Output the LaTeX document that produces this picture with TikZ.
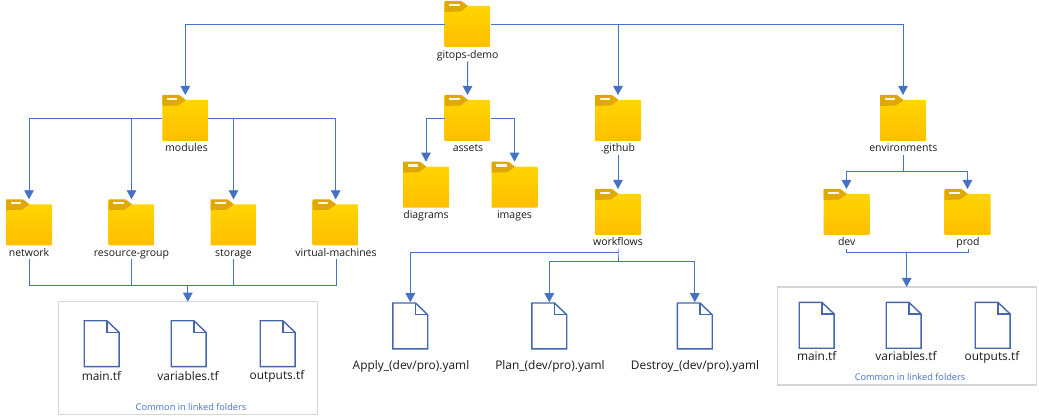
\documentclass[tikz,border=0pt]{standalone}
\usepackage{fontspec}
\setmainfont{Open Sans}
\usetikzlibrary{arrows.meta}
\definecolor{lineblue}{HTML}{4472C4}
\definecolor{filepen}{HTML}{4466AC}
\definecolor{foldertop}{HTML}{FFD700}
\definecolor{folderbot}{HTML}{FFBE00}
\definecolor{foldertab}{HTML}{E0A800}
\definecolor{labelink}{HTML}{1A1A1A}
\tikzset{
  link/.style={draw=lineblue,line width=0.9pt},
  arrowlink/.style={link,-{Triangle[width=9.5pt,length=9pt,fill=lineblue]}},
  folderspot/.style={minimum width=46pt,minimum height=46pt,inner sep=0pt,outer sep=0pt},
  filespot/.style={minimum width=36.5pt,minimum height=47.5pt,inner sep=0pt,outer sep=0pt},
  flabel/.style={anchor=base,text=labelink,font=\fontsize{10.5}{12}\selectfont,inner sep=0pt,outer sep=0pt,
    text height=8pt,text depth=3pt},
  tflabel/.style={flabel,font=\fontsize{11.9}{13}\selectfont},
  groupbox/.style={draw=black!16,line width=1.2pt,minimum width=259pt,inner sep=0pt,outer sep=0pt},
  caption/.style={anchor=base,text=lineblue,font=\fontsize{9.2}{10}\selectfont,inner sep=0pt},
}
% name, centre x, centre y
\newcommand{\folderat}[3]{%
  \begin{scope}[shift={(#2-23,#3-23)}]
    \shade[top color=foldertop,bottom color=folderbot,rounded corners=0.8pt]
      (0,1) -- (23,5) -- (46,5) -- (46,46) -- (0,46) -- cycle;
    \fill[foldertab,rounded corners=0.6pt] (0,11) -- (0,0) -- (17,0) -- (23.5,5) -- (16,10.5) -- cycle;
    \fill[white!92!foldertab] (4.8,2.6) rectangle (15,5);
  \end{scope}
  \node[folderspot] (#1) at (#2,#3) {};}
\newcommand{\fileat}[3]{%
  \begin{scope}[shift={(#2-18.25,#3-23.75)}]
    \draw[filepen,line width=1.4pt,line join=miter]
      (0.8,0.8) -- (23.5,0.8) -- (35.7,12.5) -- (35.7,46.7) -- (0.8,46.7) -- cycle;
    \draw[filepen,line width=1.4pt] (23.5,0.8) -- (23.5,12.5) -- (35.7,12.5);
  \end{scope}
  \node[filespot] (#1) at (#2,#3) {};}
\begin{document}
\begin{tikzpicture}[x=1pt,y=-1pt]
\useasboundingbox[fill=white] (0,0) rectangle (1039,419);

% group boxes
\node[groupbox,minimum height=112.5pt] (leftbox) at (187.8,358) {};
\node[groupbox,minimum height=98pt] (rightbox) at (906.7,336) {};

% folders
\folderat{root}{467.5}{24}
\folderat{modules}{185.3}{118}
\folderat{assets}{467.5}{118}
\folderat{github}{618}{118}
\folderat{envs}{903}{118}
\folderat{network}{29}{222.3}
\folderat{rg}{131.5}{222.3}
\folderat{storage}{233.5}{222.3}
\folderat{vm}{335.7}{222.3}
\folderat{diagrams}{426}{184.7}
\folderat{images}{514.5}{184.7}
\folderat{workflows}{618}{212}
\folderat{dev}{846.5}{212}
\folderat{prod}{967.5}{212}

% folder labels
\node[flabel] (rootl) at (467.7,58.3) {gitops-demo};
\node[flabel] (modulesl) at (186.5,152) {modules};
\node[flabel] (assetsl) at (468,152) {assets};
\node[flabel] (githubl) at (618,152) {.github};
\node[flabel] (envsl) at (903.3,152) {environments};
\node[flabel] (networkl) at (29,256.5) {network};
\node[flabel] (rgl) at (131.5,256.5) {resource-group};
\node[flabel] (storagel) at (233.5,256.5) {storage};
\node[flabel] (vml) at (336,256.5) {virtual-machines};
\node[flabel] (diagramsl) at (426,219) {diagrams};
\node[flabel] (imagesl) at (514.5,219) {images};
\node[flabel] (workflowsl) at (618,246) {workflows};
\node[flabel] (devl) at (846.7,246) {dev};
\node[flabel] (prodl) at (968,246) {prod};

% pipeline files
\fileat{apply}{410.3}{326}
\fileat{plan}{549.3}{326}
\fileat{destroy}{694.8}{326}
\node[tflabel] (applyl) at (411,370) {Apply\_(dev/pro).yaml};
\node[tflabel] (planl) at (550,370) {Plan\_(dev/pro).yaml};
\node[tflabel] (destroyl) at (695,370) {Destroy\_(dev/pro).yaml};

% left common files
\fileat{lmain}{101.7}{343.7}
\fileat{lvars}{188.7}{343.7}
\fileat{lout}{277.7}{343.7}
\node[tflabel] (lmainl) at (101.5,380.7) {main.tf};
\node[tflabel] (lvarsl) at (188,380.7) {variables.tf};
\node[tflabel] (loutl) at (277,379.7) {outputs.tf};
\node[caption] (lcap) at (191,410) {Common in linked folders};

% right common files
\fileat{rmain}{816.7}{325.3}
\fileat{rvars}{903.7}{325.3}
\fileat{rout}{992.7}{325.3}
\node[tflabel] (rmainl) at (816.7,361) {main.tf};
\node[tflabel] (rvarsl) at (906,361) {variables.tf};
\node[tflabel] (routl) at (992,361) {outputs.tf};
\node[caption] (rcap) at (910,380.7) {Common in linked folders};

% junctions
\coordinate (ljoin) at (187.8,285);
\coordinate (rjoin) at (906.7,252);
\coordinate (ejoin) at (903.3,171.5);
\coordinate (wjoina) at (618,252);
\coordinate (wjoinb) at (618,261);

% connectors
\draw[arrowlink] (root.west) -| (modules.north);
\draw[arrowlink] (root.east) -| (github.north);
\draw[arrowlink] (root.east) -| (envs.north);
\draw[arrowlink] (rootl.south) -- (assets.north);
\draw[arrowlink] (modules.west) -| (network.north);
\draw[arrowlink] (modules.west) -| (rg.north);
\draw[arrowlink] (modules.east) -| (storage.north);
\draw[arrowlink] (modules.east) -| (vm.north);
\draw[arrowlink] (assets.west) -| (diagrams.north);
\draw[arrowlink] (assets.east) -| (images.north);
\draw[arrowlink] (githubl.south) -- (workflows.north);
\draw[link] (envsl.south) -- (ejoin);
\draw[arrowlink] (ejoin) -| (dev.north);
\draw[arrowlink] (ejoin) -| (prod.north);
\draw[link] (workflowsl.south) -- (wjoina) -- (wjoinb);
\draw[arrowlink] (wjoina) -| (apply.north);
\draw[arrowlink] (wjoinb) -| (plan.north);
\draw[arrowlink] (wjoinb) -| (destroy.north);
\draw[link] (networkl.south) |- (ljoin);
\draw[link] (rgl.south) |- (ljoin);
\draw[link] (storagel.south) |- (ljoin);
\draw[link] (vml.south) |- (ljoin);
\draw[arrowlink] (ljoin) -- (leftbox.north);
\draw[link] (devl.south) |- (rjoin);
\draw[link] (prodl.south) |- (rjoin);
\draw[arrowlink] (rjoin) -- (rightbox.north);
\end{tikzpicture}
\end{document}
